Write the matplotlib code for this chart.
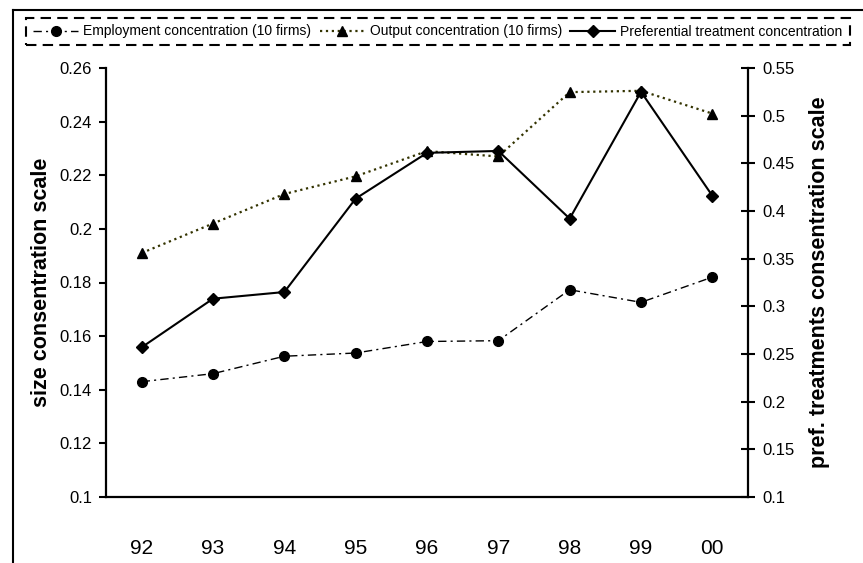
import matplotlib.pyplot as plt
from matplotlib.lines import Line2D

plt.rcParams['font.family'] = ['Liberation Sans', 'DejaVu Sans']

years = ['92', '93', '94', '95', '96', '97', '98', '99', '00']
employment = [0.143, 0.146, 0.1525, 0.1537, 0.158, 0.1583, 0.1773, 0.1726, 0.182]
output = [0.191, 0.202, 0.213, 0.2196, 0.229, 0.227, 0.251, 0.2515, 0.243]
preferential = [0.257, 0.308, 0.315, 0.413, 0.461, 0.463, 0.392, 0.525, 0.416]

left_ticks = [0.1, 0.12, 0.14, 0.16, 0.18, 0.2, 0.22, 0.24, 0.26]
right_ticks = [0.1, 0.15, 0.2, 0.25, 0.3, 0.35, 0.4, 0.45, 0.5, 0.55]

W, H = 863, 563
fig = plt.figure(figsize=(W / 100, H / 100), dpi=100)
ax = fig.add_axes([106 / W, 1 - 497 / H, 642 / W, 429 / H])
ax2 = ax.twinx()

x = list(range(len(years)))

l1, = ax.plot(x, employment, color='black', lw=1.0, ls=(0, (6, 3, 1.5, 3)),
              marker='o', ms=7)
l2, = ax.plot(x, output, color='#333300', lw=1.6, ls=':',
              marker='^', ms=7, mfc='black', mec='black')
l3, = ax2.plot(x, preferential, color='black', lw=1.5, ls='-',
               marker='D', ms=6)

ax.set_xlim(-0.5, len(years) - 0.5)
ax.set_ylim(0.1, 0.26)
ax2.set_ylim(0.1, 0.55)
ax.set_xticks(x)
ax.set_xticklabels(years)
ax.set_yticks(left_ticks)
ax.set_yticklabels(['%g' % v for v in left_ticks])
ax2.set_yticks(right_ticks)
ax2.set_yticklabels(['%g' % v for v in right_ticks])

for a in (ax, ax2):
    a.spines['top'].set_visible(False)
    for s in a.spines.values():
        s.set_linewidth(1.6)
ax.spines['right'].set_visible(False)
ax2.spines['left'].set_visible(False)
ax2.spines['bottom'].set_visible(False)

ax.tick_params(axis='x', length=0, pad=30, labelsize=15)
ax.tick_params(axis='y', direction='out', length=5, width=1.5, pad=5, labelsize=12)
ax2.tick_params(axis='y', direction='inout', length=10, width=1.5, pad=5, labelsize=12)

ax.set_ylabel('size consentration scale', fontsize=15.5, fontweight='bold')
ax.yaxis.set_label_coords(-0.084, 0.5)
ax2.set_ylabel('pref. treatments consentration scale', fontsize=15.5, fontweight='bold')
ax2.yaxis.set_label_coords(1.095, 0.5)

leg = fig.legend([l1, l2, l3],
                 ['Employment concentration (10 firms)',
                  'Output concentration (10 firms)',
                  'Preferential treatment concentration'],
                 loc='center', bbox_to_anchor=(438 / W, 1 - 31.5 / H),
                 ncol=3, fontsize=10, handlelength=3.2, handletextpad=0.4,
                 columnspacing=0.6, borderpad=0.5, fancybox=False, framealpha=1)
frame = leg.get_frame()
frame.set_edgecolor('black')
frame.set_linewidth(1.5)
frame.set_linestyle((0, (5, 3)))

# outer frame lines of the pasted figure
fig.add_artist(Line2D([13 / W, 13 / W], [0, 1 - 10 / H], color='black', lw=1.5,
                      transform=fig.transFigure))
fig.add_artist(Line2D([13 / W, 1], [1 - 10 / H, 1 - 10 / H], color='black', lw=1.5,
                      transform=fig.transFigure))

fig.savefig('out.png', dpi=100)
